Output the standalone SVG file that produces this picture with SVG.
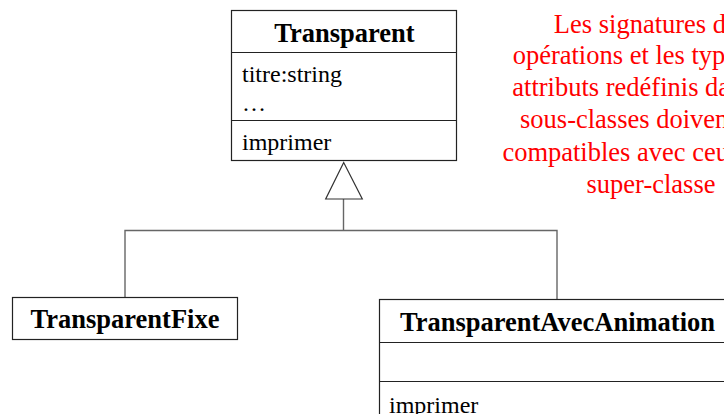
<svg xmlns="http://www.w3.org/2000/svg" width="724" height="414" viewBox="0 0 724 414">
<style>
.box{fill:#fff;stroke:#222;stroke-width:1.2}
.sep{stroke:#222;stroke-width:1.2}
.conn{fill:none;stroke:#666;stroke-width:1.4}
.tri{fill:#fff;stroke:#333;stroke-width:1.2}
.t{font-family:"Liberation Serif","Times New Roman",serif;font-size:24px;fill:#000}
.b{font-weight:bold;text-anchor:middle;font-size:26.5px}
.note{font-family:"Liberation Serif","Times New Roman",serif;font-size:26.5px;fill:#ff0000;text-anchor:middle}
</style>
<rect width="724" height="414" fill="#fff"/>
<g id="connectors">
<polyline class="conn" points="125,297 125,230.5 557,230.5 557,299"/>
<line class="conn" x1="343.5" y1="199" x2="343.5" y2="230.5"/>
<polygon class="tri" points="343.7,162.5 325.7,199 362.3,199"/>
</g>
<g id="Transparent">
<rect class="box" x="231.5" y="10.5" width="225" height="150"/>
<line class="sep" x1="231.5" y1="52.5" x2="456.5" y2="52.5"/>
<line class="sep" x1="231.5" y1="120.5" x2="456.5" y2="120.5"/>
<text class="t b" x="344.5" y="42">Transparent</text>
<text class="t" x="242" y="82">titre:string</text>
<text class="t" x="242" y="111">…</text>
<text class="t" x="242" y="150">imprimer</text>
</g>
<g id="TransparentFixe">
<rect class="box" x="12.5" y="297.5" width="225" height="42"/>
<text class="t b" x="125" y="328">TransparentFixe</text>
</g>
<g id="TransparentAvecAnimation">
<rect class="box" x="379.5" y="299.5" width="356" height="130"/>
<line class="sep" x1="379.5" y1="342.5" x2="735" y2="342.5"/>
<line class="sep" x1="379.5" y1="381.5" x2="735" y2="381.5"/>
<text class="t b" x="557.5" y="331">TransparentAvecAnimation</text>
<text class="t" x="389" y="413">imprimer</text>
</g>
<g id="note">
<text class="note" x="651" y="33">Les signatures des</text>
<text class="note" x="651" y="64">opérations et les types des</text>
<text class="note" x="651" y="96">attributs redéfinis dans les</text>
<text class="note" x="651" y="128">sous-classes doivent être</text>
<text class="note" x="651" y="161">compatibles avec ceux de la</text>
<text class="note" x="651" y="193">super-classe</text>
</g>
</svg>
